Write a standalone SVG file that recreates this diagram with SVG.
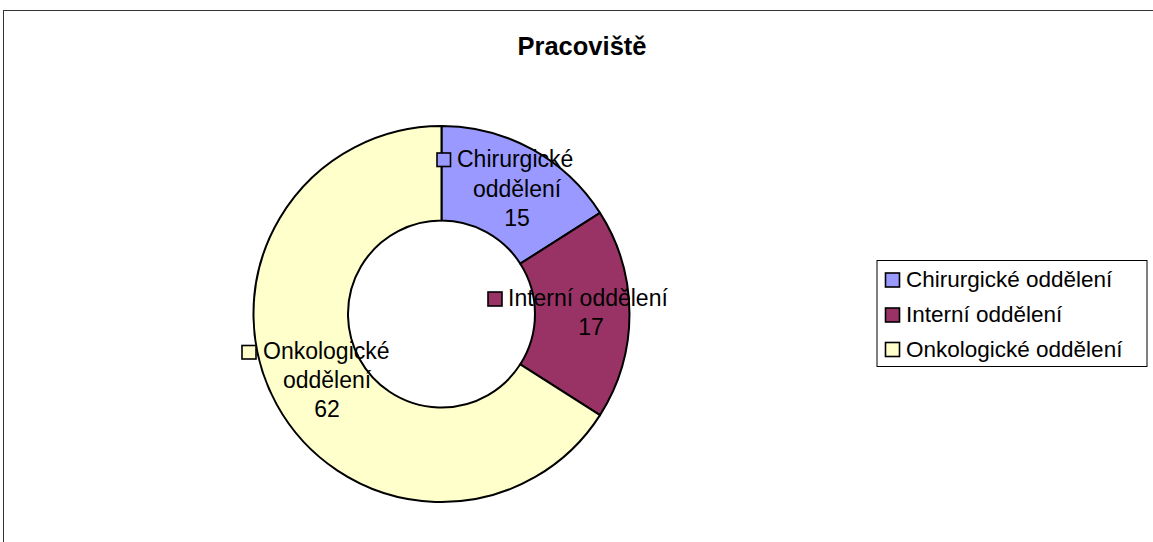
<svg xmlns="http://www.w3.org/2000/svg" width="1153" height="542" viewBox="0 0 1153 542">
<style>
.t{font-family:"Liberation Sans",Arial,sans-serif;fill:#000}
.lbl{font-size:23px}
.leg{font-size:22.5px}
.sl{stroke:#000;stroke-width:2;stroke-linejoin:round}
.mk{stroke:#000;stroke-width:1.6}
.c1{fill:#9999FF}.c2{fill:#993366}.c3{fill:#FFFFCC}
</style>
<rect x="0" y="0" width="1153" height="542" fill="#fff"/>
<rect x="3.5" y="10.5" width="1160" height="540" fill="#fff" stroke="#333" stroke-width="1"/>
<text class="t" x="582" y="55" font-size="25.5" font-weight="bold" text-anchor="middle">Pracoviště</text>
<g id="slices">
<g id="slice-chirurgicke"><path class="sl c1" d="M441.5 126 A188 188 0 0 1 600 212.9 L520.3 263.7 A93.5 93.5 0 0 0 441.5 220.5 Z"/></g>
<g id="slice-interni"><path class="sl c2" d="M600 212.9 A188 188 0 0 1 600 415.1 L520.3 364.3 A93.5 93.5 0 0 0 520.3 263.7 Z"/></g>
<g id="slice-onkologicke"><path class="sl c3" d="M600 415.1 A188 188 0 1 1 441.5 126 L441.5 220.5 A93.5 93.5 0 1 0 520.3 364.3 Z"/></g>
</g>
<g id="label-chirurgicke">
<rect class="mk c1" x="437" y="153" width="13.5" height="13.5"/>
<text class="t lbl" x="457" y="167">Chirurgické</text>
<text class="t lbl" x="517" y="197" text-anchor="middle">oddělení</text>
<text class="t lbl" x="517" y="226" text-anchor="middle">15</text>
</g>
<g id="label-interni">
<rect class="mk c2" x="488" y="292" width="14" height="14"/>
<text class="t lbl" x="508" y="306">Interní oddělení</text>
<text class="t lbl" x="591" y="335" text-anchor="middle">17</text>
</g>
<g id="label-onkologicke">
<rect class="mk c3" x="242" y="345.5" width="14" height="13.5"/>
<text class="t lbl" x="263" y="359">Onkologické</text>
<text class="t lbl" x="327" y="388" text-anchor="middle">oddělení</text>
<text class="t lbl" x="327" y="417" text-anchor="middle">62</text>
</g>
<g id="legend">
<rect x="877" y="260.5" width="270" height="106" fill="#fff" stroke="#000" stroke-width="1"/>
<rect class="mk c1" x="885.5" y="273" width="14" height="14"/>
<text class="t leg" x="906" y="287">Chirurgické oddělení</text>
<rect class="mk c2" x="885.5" y="308" width="14" height="14"/>
<text class="t leg" x="906" y="322">Interní oddělení</text>
<rect class="mk c3" x="885.5" y="342.5" width="14" height="14"/>
<text class="t leg" x="906" y="356.5">Onkologické oddělení</text>
</g>
</svg>
